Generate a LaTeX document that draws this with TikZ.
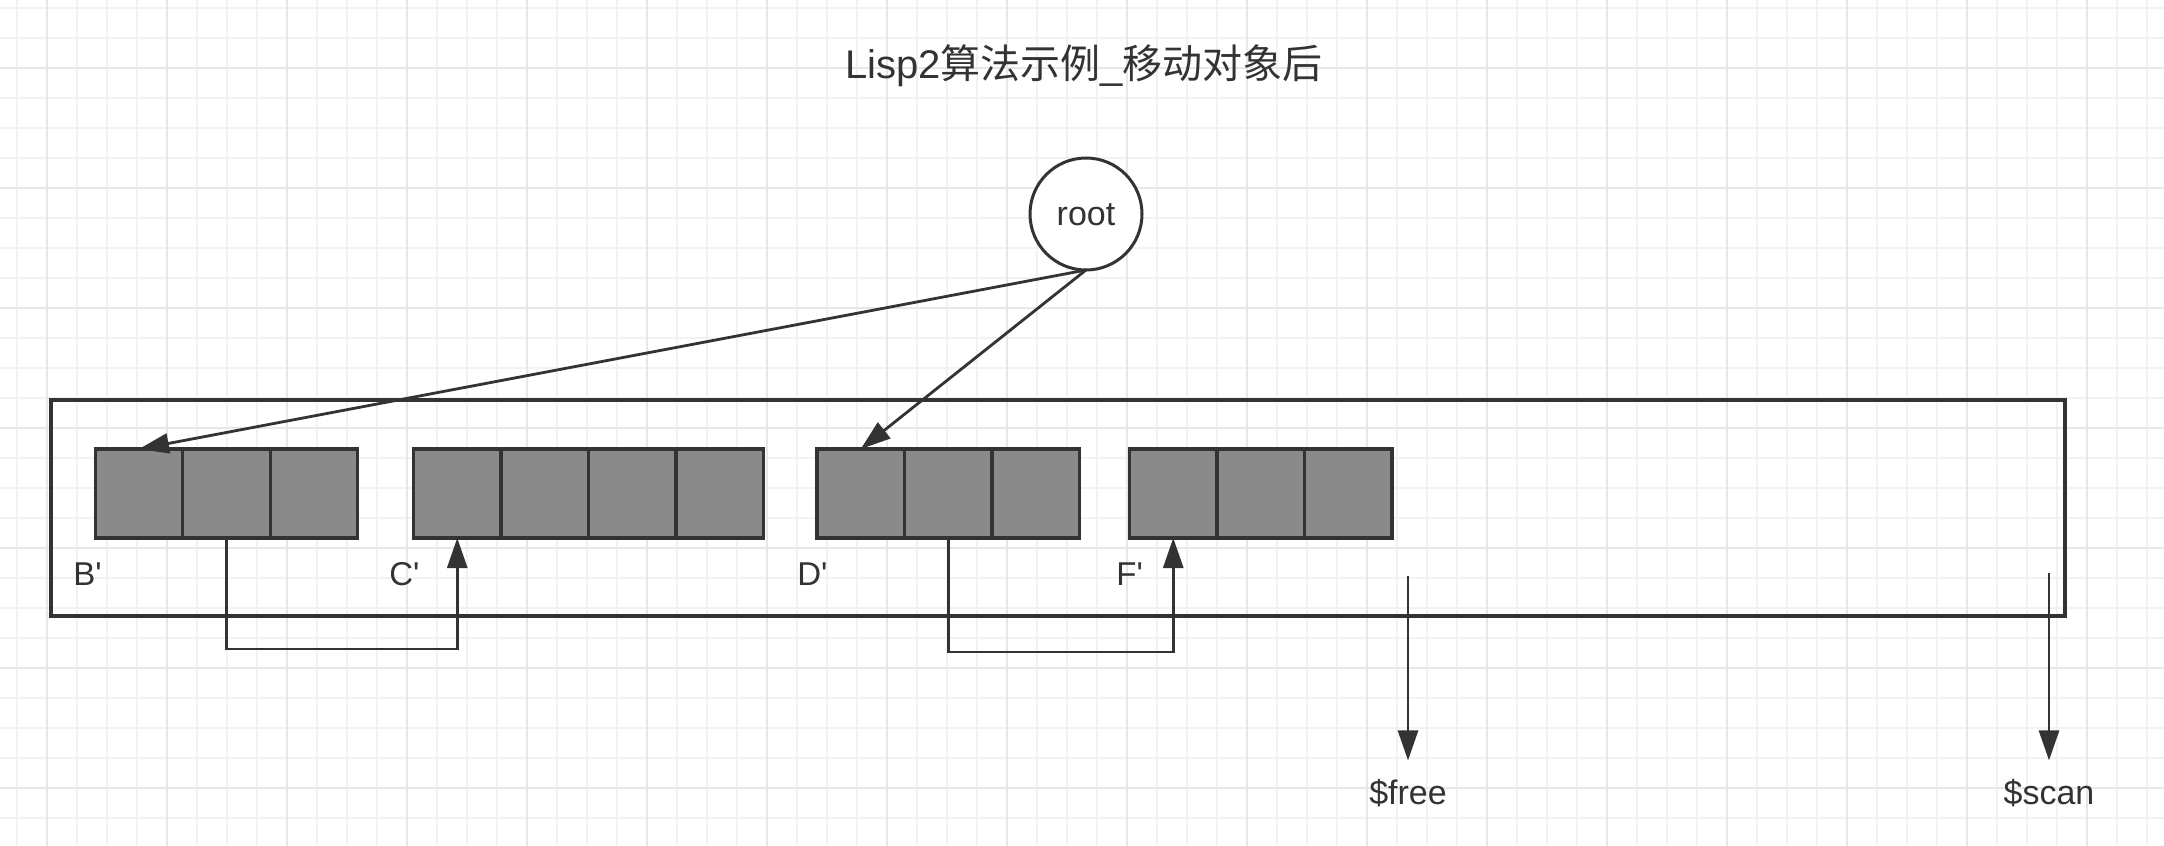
\documentclass[tikz,border=0pt]{standalone}
\usepackage{fontspec}
\setmainfont{Liberation Sans}
\newfontfamily\labelfont{Liberation Sans}
\newfontfamily\cjk{Noto Sans CJK SC}
\usetikzlibrary{positioning,arrows.meta}
\definecolor{inkgray}{HTML}{333333}
\definecolor{cellgray}{HTML}{8A8A8A}
\definecolor{gridminor}{HTML}{F2F2F5}
\definecolor{gridmajor}{HTML}{E6E6EB}

\begin{document}
\begin{tikzpicture}
        [x=0.5pt, y=-0.5pt, node distance=0pt,
         cellbox/.style={draw=inkgray, fill=cellgray, line width=1.6pt, minimum width=43.75pt, minimum height=44.5pt, inner sep=0pt, outer sep=0pt},
         heapbox/.style={draw=inkgray, line width=1.6pt, minimum width=1007pt, minimum height=108pt, inner sep=0pt, outer sep=0pt},
         rootnode/.style={circle, draw=inkgray, fill=white, line width=1.5pt, minimum size=56pt, inner sep=0pt, outer sep=0pt, text=inkgray, font=\fontsize{17}{20}\selectfont},
         titletext/.style={anchor=base, inner sep=0pt, text=inkgray, font=\fontsize{20}{24}\selectfont},
         objlabel/.style={anchor=base west, inner sep=0pt, text=inkgray, font=\labelfont\fontsize{16.5}{20}\selectfont},
         ptrlabel/.style={anchor=base, inner xsep=0pt, inner ysep=9pt, text=inkgray, font=\fontsize{17}{20}\selectfont},
         link/.style={draw=inkgray, line width=1.4pt, -{Triangle[length=15pt,width=10pt]}}]
        \useasboundingbox (0,0) rectangle (2164,846);
        \fill[white] (0,0) rectangle (2164,846);
        % background grid
        \foreach \i in {0,...,71} \draw[gridminor, line width=1pt] ({16.7+30*\i},0) -- ({16.7+30*\i},846);
        \foreach \i in {0,...,27} \draw[gridminor, line width=1pt] (0,{8.3+30*\i}) -- (2164,{8.3+30*\i});
        \foreach \i in {0,...,17} \draw[gridmajor, line width=1pt] ({46.7+120*\i},0) -- ({46.7+120*\i},846);
        \foreach \i in {0,...,6} \draw[gridmajor, line width=1pt] (0,{68.3+120*\i}) -- (2164,{68.3+120*\i});

        \node [titletext] (title) at (1084,78) {Lisp2{\cjk 算法示例}\_{\cjk 移动对象后}};
        \node [heapbox] (heap) at (1058,508) {};
        \node [rootnode] (root) at (1086,214) {\raisebox{-5.5pt}[0pt][0pt]{root}};

        \node [cellbox] (b1) at (139,493.5) {};
        \node [cellbox, right=of b1] (b2) {};
        \node [cellbox, right=of b2] (b3) {};
        \node [cellbox] (c1) at (457.25,493.5) {};
        \node [cellbox, right=of c1] (c2) {};
        \node [cellbox, right=of c2] (c3) {};
        \node [cellbox, right=of c3] (c4) {};
        \node [cellbox] (d1) at (860.75,493.5) {};
        \node [cellbox, right=of d1] (d2) {};
        \node [cellbox, right=of d2] (d3) {};
        \node [cellbox] (f1) at (1173.25,493.5) {};
        \node [cellbox, right=of f1] (f2) {};
        \node [cellbox, right=of f2] (f3) {};

        \node [objlabel] (blabel) at (73,585) {B'};
        \node [objlabel] (clabel) at (389,585) {C'};
        \node [objlabel] (dlabel) at (797,585) {D'};
        \node [objlabel] (flabel) at (1116,585) {F'};

        \draw[link] (root.south) -- (b1.north);
        \draw[link] (root.south) -- (d1.north);
        \draw[link] (b2.south) -- ++(0,111) -| (c1.south);
        \draw[link] (d2.south) -- ++(0,114) -| (f1.south);

        \coordinate (freetop) at (1408,576);
        \coordinate (scantop) at (2049,573);
        \node [ptrlabel] (free) at (1408,804) {\$free};
        \node [ptrlabel] (scan) at (2049,804) {\$scan};
        \draw[link] (freetop) -- (freetop |- free.north);
        \draw[link] (scantop) -- (scantop |- scan.north);
    \end{tikzpicture}
\end{document}
